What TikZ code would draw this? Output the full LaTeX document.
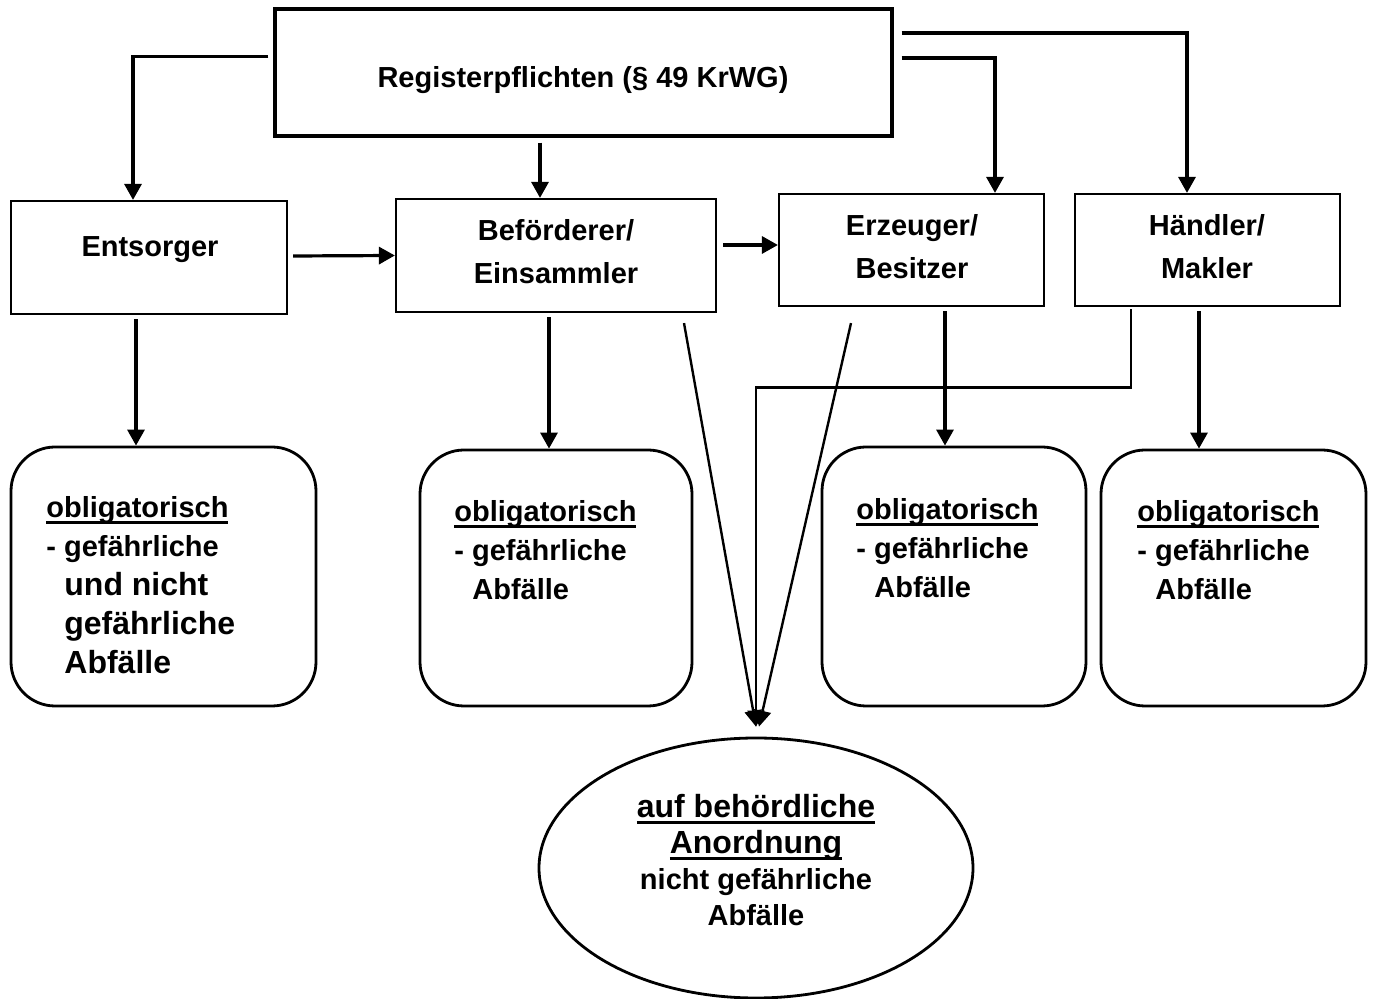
\documentclass[tikz,border=0pt]{standalone}
\usepackage{fontspec}
\setmainfont{Liberation Sans}
\newcommand\unterstr[1]{\setbox0\hbox{#1}\rlap{\rule[-3.3pt]{\wd0}{1.4pt}}\box0}
\newcommand\gross{\fontsize{16}{18.5}\selectfont}
\newcommand\klein{\fontsize{14.5}{18}\selectfont}
\usetikzlibrary{calc,arrows.meta,shapes.geometric}
\tikzset{
	kasten/.style={draw, line width=1.1pt, inner sep=0pt},
	rkasten/.style={draw, line width=1.4pt, rounded corners=22pt, inner sep=0pt},
	txt/.style={font=\bfseries\fontsize{14.5}{21.5}\selectfont, align=center, inner sep=0pt},
	pfeil/.style={line width=1.6pt, -{Triangle[length=8pt,width=8.5pt]}},
}
\begin{document}
\begin{tikzpicture}[x=0.5pt, y=-0.5pt, line join=miter]
	\useasboundingbox (0,0) rectangle (1373,999);
	% Kaesten oben
	\node[kasten, line width=1.6pt, minimum width=308.5pt, minimum height=63.5pt] (reg) at (583.5,72.5) {};
	\node[kasten, minimum width=138pt, minimum height=56.5pt] (ent) at (149,257.5) {};
	\node[kasten, minimum width=160pt, minimum height=56.5pt] (bef) at (556,255.5) {};
	\node[kasten, minimum width=132.5pt, minimum height=56pt] (erz) at (911.5,250) {};
	\node[kasten, minimum width=132.5pt, minimum height=56pt] (hae) at (1207.5,250) {};
	\node[txt] (regT) at (583,80) {Registerpflichten (§ 49 KrWG)};
	\node[txt] (entT) at (150,250) {Entsorger};
	\node[txt] (befT) at (556,252) {Beförderer/\\Einsammler};
	\node[txt] (erzT) at (912,247) {Erzeuger/\\Besitzer};
	\node[txt] (haeT) at (1207,247) {Händler/\\Makler};
	% Kaesten unten
	\foreach \n/\x/\y/\w/\h in {ob1/163.5/576.5/152.5/129.5, ob2/556/578/136/128, ob3/954/576.5/132/129.5, ob4/1233.5/578/132.5/128}{
		\node[rkasten, minimum width=\w pt, minimum height=\h pt] (\n) at (\x,\y) {};
	}
	\node[txt, align=left, anchor=west, font=\bfseries\fontsize{14.5}{19.5}\selectfont] (ob1T) at (46,585)
		{\unterstr{obligatorisch}\\- gefährliche\\\gross\hspace*{9pt}und nicht\\\gross\hspace*{9pt}gefährliche\\\gross\hspace*{9pt}Abfälle};
	\foreach \n/\x/\y in {ob2T/454/550, ob3T/856/548, ob4T/1137/550}{
		\node[txt, align=left, anchor=west, font=\bfseries\fontsize{14.5}{19.5}\selectfont] (\n) at (\x,\y)
			{\unterstr{obligatorisch}\\- gefährliche\\\hspace*{9pt}Abfälle};
	}
	\node[draw, ellipse, line width=1.4pt, minimum width=217pt, minimum height=130pt, inner sep=0pt] (ell) at (756,868) {};
	\node[txt, font=\bfseries\fontsize{16}{18}\selectfont] (ellT) at (756,860)
		{\unterstr{auf behördliche}\\\unterstr{Anordnung}\\\klein nicht gefährliche\\\klein Abfälle};
	% Pfeile
	\draw[pfeil] ($(reg.west)+(-5,-16)$) -| ($(ent.north)+(-16,0)$);
	\draw[pfeil] ($(reg.south)+(-43.5,5)$) -- ($(bef.north)+(-16,0)$);
	\draw[pfeil] ($(reg.east)+(8,-14.5)$) -| ($(erz.north)+(83.5,0)$);
	\draw[pfeil] ($(reg.east)+(8,-39.5)$) -| ($(hae.north)+(-20.5,0)$);
	\draw[pfeil] ($(ent.east)+(5,-1.5)$) -- (bef.west);
	\draw[pfeil] ($(bef.east)+(6,-10.5)$) -- ($(erz.west)+(0,-5)$);
	\draw[pfeil] ($(ent.south)+(-13,4)$) -- ($(ob1.north)+(-27.5,0)$);
	\draw[pfeil] ($(bef.south)+(-7,4)$) -- ($(ob2.north)+(-7,0)$);
	\draw[pfeil] ($(erz.south)+(33.5,4)$) -- ($(ob3.north)+(-9,0)$);
	\draw[pfeil] ($(hae.south)+(-8.5,4)$) -- ($(ob4.north)+(-34.5,0)$);
	\draw[pfeil, line width=1.2pt] ($(bef.south)+(128,10)$) -- ($(ell.north)+(0,-10)$);
	\draw[pfeil, line width=1.2pt] ($(erz.south)+(-60.5,16)$) -- ($(ell.north)+(3,-10)$);
	\draw[pfeil, line width=1.2pt] ($(hae.south)+(-76.5,2)$) |- ($(ell.north)+(0,-349)$) -- ($(ell.north)+(0,-10)$);
\end{tikzpicture}
\end{document}
